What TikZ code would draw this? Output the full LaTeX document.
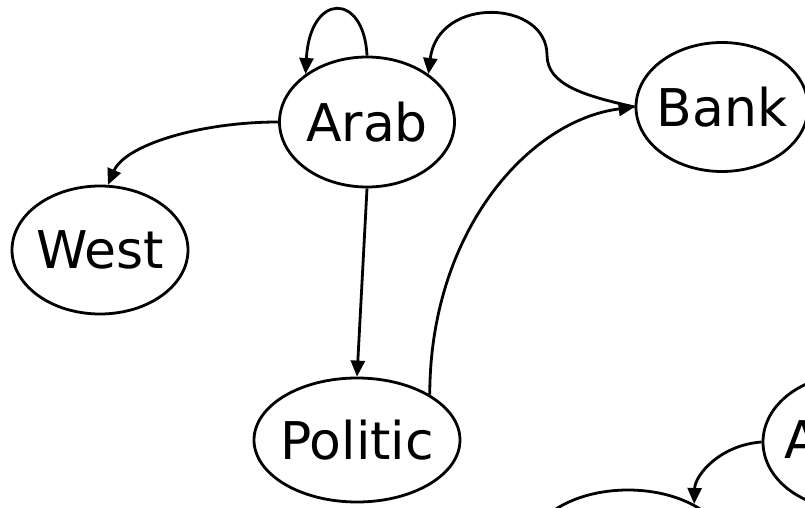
\documentclass[tikz,border=0pt]{standalone}
\usepackage{fontspec}
\setmainfont{DejaVu Sans}
\usepackage{tikz}
\usetikzlibrary{shapes.geometric,arrows.meta}

\begin{document}
\begin{tikzpicture}[x=1pt,y=-1pt,
            >={Triangle[length=16pt,width=14pt]},
            edge/.style={line width=2.8pt,->},
            state/.style={shape=ellipse, draw, line width=2.8pt, inner xsep=-10pt, inner ysep=0pt,
                font=\fontsize{52}{62}\selectfont}]
        \useasboundingbox (0,0) rectangle (805,508);
        \clip (0,0) rectangle (805,508);

        \node[state,minimum width=175pt,minimum height=130pt] (arab) at (367,122) {Arab};
        \node[state,minimum width=172pt,minimum height=129pt] (bank) at (722,107) {Bank};
        \node[state,minimum width=176pt,minimum height=128pt] (west) at (100,250) {West};
        \node[state,minimum width=206pt,minimum height=124pt] (politic) at (357,440) {Politic};
        \node[state,minimum width=174pt,minimum height=134pt] (other) at (850,442) {};
        \node[anchor=west,inner sep=0pt,font=\fontsize{52}{62}\selectfont] (otherlabel) at (784,440) {A};
        \node[state,minimum width=200pt,minimum height=124pt] (lower) at (628,552) {};

        \draw[edge] (arab.north) .. controls (364,-8) and (310,-8) .. (arab.142);
        \draw[edge] (bank.west) .. controls (585,96) and (547,85) .. (547,55)
                    .. controls (547,0) and (438,-5) .. (arab.38);
        \draw[edge] (politic.32) .. controls (430,230) and (530,120) .. (bank.west);
        \draw[edge] (arab.west) .. controls (200,122) and (125,145) .. (west.83);
        \draw[edge] (arab.south) -- (politic.north);
        \draw[edge] (other.west) .. controls (720,445) and (695,475) .. (lower.36);
    \end{tikzpicture}
\end{document}
